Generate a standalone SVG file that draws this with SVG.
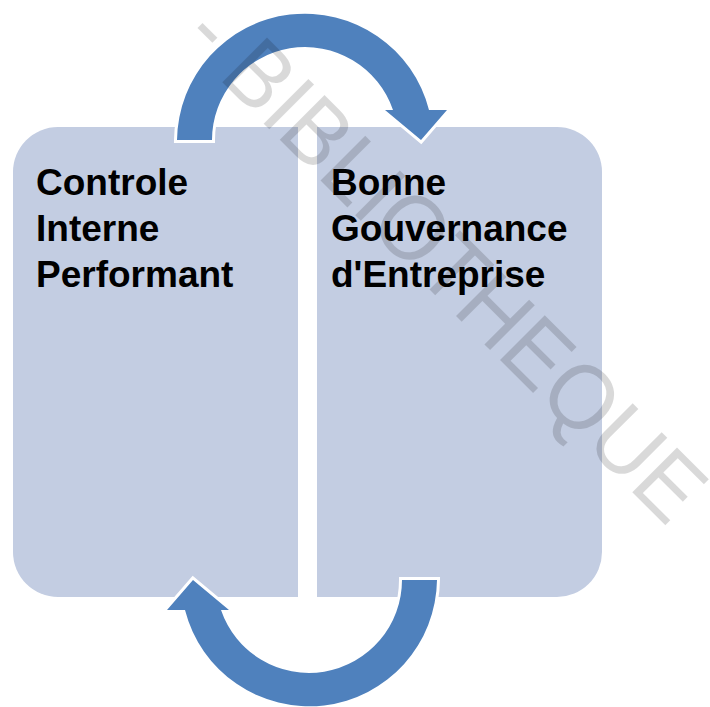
<svg xmlns="http://www.w3.org/2000/svg" width="710" height="707" viewBox="0 0 710 707">
  <style>
    .panel { fill: #c3cde2; }
    .arrow { fill: #4f81bd; stroke: #ffffff; stroke-width: 6; stroke-linejoin: miter; paint-order: stroke; }
    .label { font-family: "Liberation Sans", Arial, sans-serif; font-weight: bold; font-size: 37px; fill: #000000; }
    .mark { font-family: "Liberation Sans", Arial, sans-serif; font-size: 92px; fill: #000000; fill-opacity: 0.15; }
  </style>
  <defs>
    <!-- curved arrow: tail on the left, head on the right -->
    <path id="curved-arrow" d="M 177,140 A 128 128 0 0 1 429,110 L 447,110 L 421,140 L 385,110 L 393,110 A 93 93 0 0 0 212,140 Z"/>
  </defs>
  <rect width="710" height="707" fill="#ffffff"/>

  <g id="node-controle">
    <path class="panel" d="M 58,127 H 298 V 597 H 58 A 45 45 0 0 1 13,552 V 172 A 45 45 0 0 1 58,127 Z"/>
    <text class="label" x="36" y="195">Controle</text>
    <text class="label" x="36" y="241">Interne</text>
    <text class="label" x="36" y="287">Performant</text>
  </g>

  <g id="node-gouvernance">
    <path class="panel" d="M 317,127 H 557 A 45 45 0 0 1 602,172 V 552 A 45 45 0 0 1 557,597 H 317 Z"/>
    <text class="label" x="331" y="195">Bonne</text>
    <text class="label" x="331" y="241">Gouvernance</text>
    <text class="label" x="331" y="287">d'Entreprise</text>
  </g>

  <g id="connectors">
    <use href="#curved-arrow" class="arrow"/>
    <use href="#curved-arrow" class="arrow" transform="rotate(180 307 360)"/>
  </g>

  <text class="mark" transform="translate(180 40) rotate(45)" textLength="690" lengthAdjust="spacingAndGlyphs">- BIBLIOTHEQUE</text>
</svg>
